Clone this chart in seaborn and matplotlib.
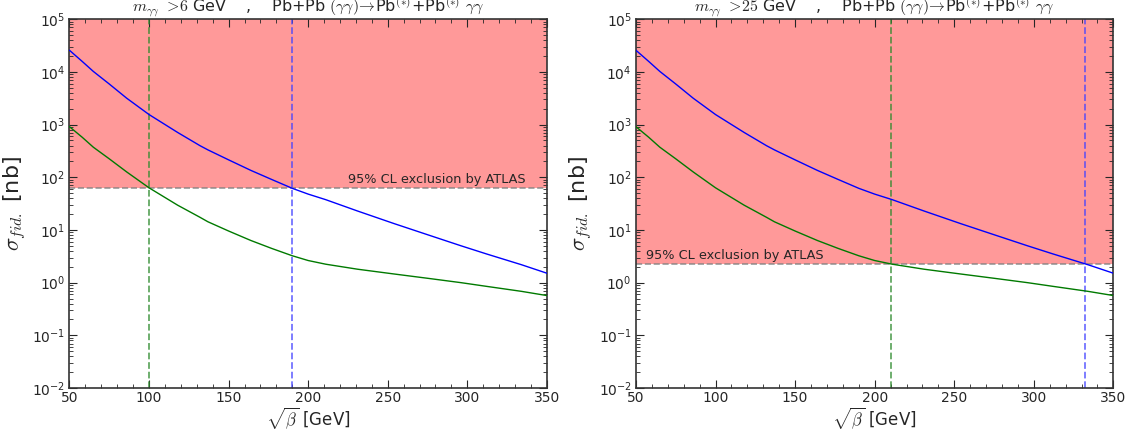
import numpy as np
import pandas as pd
import matplotlib
matplotlib.use("Agg")
import matplotlib.pyplot as plt
import seaborn as sns

# ---- data ----
sqrt_beta = [50, 58, 65, 75, 86, 100, 118, 132, 137, 150, 164, 177, 190, 200, 211, 231, 254, 276, 296, 312, 334, 350]
sigma_blue = [25700, 15800, 10200, 5890, 3160, 1550, 708, 398, 331, 214, 135, 91, 61.7, 47.9, 37.6, 22.9, 13.2, 7.94, 5.01, 3.51, 2.19, 1.51]
sigma_green = [912, 575, 372, 224, 126, 63.1, 29.5, 17.4, 14.3, 9.55, 6.31, 4.47, 3.24, 2.63, 2.24, 1.80, 1.46, 1.20, 1.00, 0.851, 0.684, 0.569]

titles = [r"$m_{\gamma\gamma}$ $>\!6$ GeV    ,    Pb+Pb $(\gamma\gamma)\!\rightarrow\!$Pb$^{(*)}$+Pb$^{(*)}$ $\gamma\gamma$",
          r"$m_{\gamma\gamma}$ $>\!25$ GeV    ,    Pb+Pb $(\gamma\gamma)\!\rightarrow\!$Pb$^{(*)}$+Pb$^{(*)}$ $\gamma\gamma$"]
limits = [61.7, 2.24]
green_cross = [100, 210]
blue_cross = [190, 332]
label_text = "95% CL exclusion by ATLAS"

sns.set_style("ticks")
plt.rcParams["mathtext.fontset"] = "cm"
plt.rcParams["font.family"] = ["DejaVu Sans"]
plt.rcParams["axes.unicode_minus"] = False

df = pd.DataFrame({"x": sqrt_beta, "blue": sigma_blue, "green": sigma_green})

fig = plt.figure(figsize=(11.33, 4.36), dpi=100)
ax_l = fig.add_axes([0.0613, 0.110, 0.4214, 0.846])
ax_r = fig.add_axes([0.5613, 0.110, 0.4214, 0.846])

for i, ax in enumerate([ax_l, ax_r]):
    ax.set_yscale("log")
    ax.set_xlim(50, 350)
    ax.set_ylim(1e-2, 1e5)
    ax.axhspan(limits[i], 1e5, color="red", alpha=0.4, lw=0, zorder=0)
    ax.axhline(limits[i], color="gray", ls="--", lw=1.2, alpha=0.8, zorder=1)
    sns.lineplot(data=df, x="x", y="blue", ax=ax, color="#0000ff", lw=1.0, zorder=3)
    sns.lineplot(data=df, x="x", y="green", ax=ax, color="#007a00", lw=1.0, zorder=3)
    ax.axvline(green_cross[i], color="#2e8b2e", ls="--", lw=1.3, alpha=0.75, zorder=2)
    ax.axvline(blue_cross[i], color="#4444ff", ls="--", lw=1.3, alpha=0.75, zorder=2)
    ax.set_title(titles[i], fontsize=11.5, pad=0.5)
    ax.set_xlabel(r"$\sqrt{\beta}$ [GeV]", fontsize=12, labelpad=0)
    ax.set_ylabel(r"$\sigma_{fid.}$ [nb]", fontsize=16, labelpad=3)
    ax.set_xticks([50, 100, 150, 200, 250, 300, 350])
    ax.set_xticks(np.arange(50, 351, 10), minor=True)
    ax.tick_params(which="both", direction="in", top=True, right=True, labelsize=10)
    ax.tick_params(axis="x", which="both", pad=2)
    ax.tick_params(axis="y", which="both", pad=3)
    ax.tick_params(which="major", length=6)
    ax.tick_params(which="minor", length=3)
    for s in ax.spines.values():
        s.set_color("#333333")
        s.set_linewidth(1.2)

ax_l.text(336.5, limits[0] * 1.12, label_text, ha="right", va="bottom", fontsize=9.3)
ax_r.text(56, limits[1] * 1.12, label_text, ha="left", va="bottom", fontsize=9.3)

fig.savefig("out.png", dpi=100)
